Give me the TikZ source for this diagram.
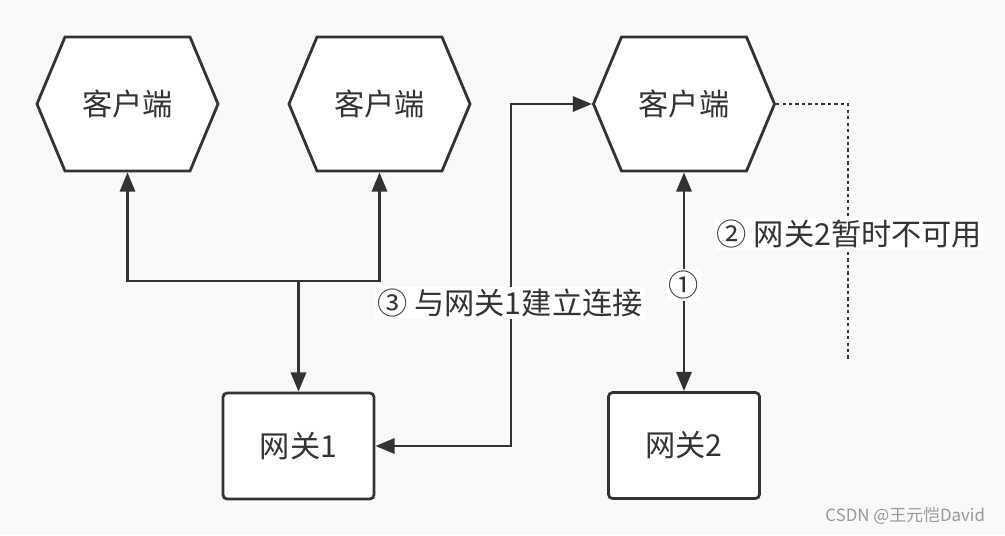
\documentclass[tikz,border=0pt]{standalone}
\usepackage{fontspec}
\setmainfont{Noto Sans CJK SC}
\usetikzlibrary{positioning,arrows.meta,shapes.symbols}
\definecolor{ink}{HTML}{333333}
\definecolor{paper}{HTML}{F9F9F9}

\begin{document}
\begin{tikzpicture}[x=0.025cm, y=-0.025cm,
  client/.style={signal, signal to=west and east, signal pointer angle=134.6, draw=ink, fill=white, line width=2pt, minimum width=4.525cm, minimum height=3.35cm, inner sep=0pt, font=\fontsize{21.5}{26}\selectfont, text=ink},
  gateway/.style={rectangle, rounded corners=3pt, draw=ink, fill=white, line width=2pt, minimum width=3.775cm, minimum height=2.65cm, font=\fontsize{21.5}{26}\selectfont, text=ink},
  conn/.style={line width=1.9pt, draw=ink, -{Triangle[length=0.48cm,width=0.38cm]}},
  both/.style={conn, {Triangle[length=0.48cm,width=0.38cm]}-{Triangle[length=0.48cm,width=0.38cm]}},
  down/.style={line width=1.9pt, draw=ink, dash pattern=on 2.3pt off 2.3pt},
  tag/.style={fill=white, inner sep=1.5pt, font=\fontsize{21.5}{26}\selectfont, text=ink}
]
\fill[paper] (0,0) rectangle (1005,535);
\useasboundingbox (0,0) rectangle (1005,535);
% clients
\node[client] (c1) at (127.5,104) {客户端};
\node[client] (c2) at (379.5,104) {客户端};
\node[client] (c3) at (684,104) {客户端};
% gateways
\node[gateway] (g1) at (298.5,446) {网关1};
\node[gateway] (g2) at (684,445.5) {网关2};
% gateway 1 serves both clients
\coordinate (split) at (298.5,281);
\draw[conn] (split) -- (g1.north);
\draw[conn] (split) -| (c1.south);
\draw[conn] (split) -| (c2.south);
% client 3 reconnects
\coordinate (bend) at (511,104);
\draw[both] (c3.west) -- (bend) |- (g1.east);
\node[tag] (t3) at (510,303) {③ 与网关1建立连接};
\draw[both] (c3.south) -- (g2.north);
\node[tag] (t1) at (684,285) {①};
% gateway 2 down
\coordinate (cut) at (848,360);
\draw[down] (c3.east) -| (cut);
\node[tag] (t2) at (849.5,234) {② 网关2暂时不可用};
\node[font=\fontsize{12}{14}\selectfont, text=gray!80, anchor=east] (mark) at (990,516) {CSDN @王元恺David};
\end{tikzpicture}
\end{document}
